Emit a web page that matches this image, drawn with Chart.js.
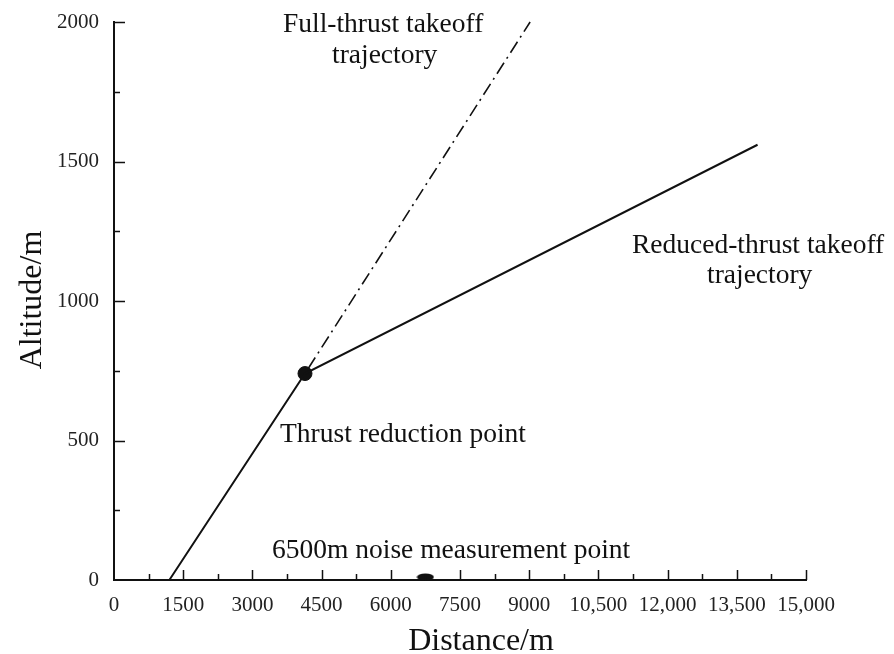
<!DOCTYPE html>
<html>
<head>
<meta charset="utf-8">
<script src="https://cdn.jsdelivr.net/npm/chart.js@4"></script>
<style>
  html, body { margin: 0; padding: 0; background: #fff; }
  #wrap { width: 894px; height: 654px; }
</style>
</head>
<body>
<div id="wrap"><canvas id="chart" width="894" height="654"></canvas></div>
<script>
// values (distance m, altitude m)
const reducedX = [1200, 4140, 13950];
const reducedY = [0, 740, 1560];
const fullX = [4140, 9020];
const fullY = [740, 2000];
const reductionX = [4140];
const reductionY = [740];
const noiseX = [6750];
const noiseY = [0];

const xTicks = [0, 1500, 3000, 4500, 6000, 7500, 9000, 10500, 12000, 13500, 15000];
const yTicks = [0, 500, 1000, 1500, 2000];

const xTitle = "Distance/m";
const yTitle = "Altitude/m";
const notes = ["Full-thrust takeoff", "trajectory", "Reduced-thrust takeoff", "trajectory",
  "Thrust reduction point", "6500m noise measurement point"];

const serif = "'Liberation Serif', 'Times New Roman', serif";
const ink = "#111";

const toPoints = (xs, ys) => xs.map((x, i) => ({ x: x, y: ys[i] }));

// flat ellipse marker for the measurement point
const ellipse = document.createElement("canvas");
ellipse.width = 18; ellipse.height = 16;
(function () {
  const c = ellipse.getContext("2d");
  c.fillStyle = ink;
  c.beginPath();
  c.ellipse(9, 5, 8.5, 3.6, 0, 0, Math.PI * 2);
  c.fill();
})();

const extras = {
  id: "extras",
  afterDraw(chart) {
    const ctx = chart.ctx;
    const xs = chart.scales.x, ys = chart.scales.y;
    const x0 = xs.left, y0 = ys.bottom;
    ctx.save();
    ctx.strokeStyle = ink;
    ctx.lineWidth = 1.5;
    ctx.beginPath();
    // inward ticks, major + minor
    for (let i = 0; i < xTicks.length; i++) {
      const px = Math.round(xs.getPixelForValue(xTicks[i])) + 0.5;
      if (i > 0) { ctx.moveTo(px, y0); ctx.lineTo(px, y0 - 10); }
      if (i < xTicks.length - 1) {
        const mx = Math.round(xs.getPixelForValue((xTicks[i] + xTicks[i + 1]) / 2)) + 0.5;
        ctx.moveTo(mx, y0); ctx.lineTo(mx, y0 - 6);
      }
    }
    for (let i = 0; i < yTicks.length; i++) {
      const py = Math.round(ys.getPixelForValue(yTicks[i])) + 0.5;
      if (i > 0) { ctx.moveTo(x0, py); ctx.lineTo(x0 + 11, py); }
      if (i < yTicks.length - 1) {
        const my = Math.round(ys.getPixelForValue((yTicks[i] + yTicks[i + 1]) / 2)) + 0.5;
        ctx.moveTo(x0, my); ctx.lineTo(x0 + 6, my);
      }
    }
    ctx.stroke();

    // axis titles
    ctx.fillStyle = ink;
    ctx.font = "32px " + serif;
    ctx.textAlign = "center";
    ctx.textBaseline = "alphabetic";
    ctx.fillText(xTitle, 481, 650);
    ctx.save();
    ctx.translate(41, 300);
    ctx.rotate(-Math.PI / 2);
    ctx.fillText(yTitle, 0, 0);
    ctx.restore();

    // annotations
    ctx.font = "27.5px " + serif;
    ctx.textAlign = "left";
    ctx.fillText(notes[0], 283, 32);
    ctx.fillText(notes[1], 332, 63);
    ctx.fillText(notes[2], 632, 253);
    ctx.fillText(notes[3], 707, 283);
    ctx.fillText(notes[4], 280, 442);
    ctx.fillText(notes[5], 272, 558);
    ctx.restore();
  }
};

new Chart(document.getElementById("chart"), {
  type: "scatter",
  data: {
    datasets: [
      {
        data: toPoints(reducedX, reducedY),
        showLine: true,
        borderColor: ink,
        borderWidth: 2,
        pointRadius: 0,
        clip: false
      },
      {
        data: toPoints(fullX, fullY),
        showLine: true,
        borderColor: ink,
        borderWidth: 1.6,
        borderDash: [13, 5, 2, 5],
        borderDashOffset: -6,
        pointRadius: 0,
        clip: false
      },
      {
        data: toPoints(reductionX, reductionY),
        pointRadius: 7,
        backgroundColor: ink,
        borderColor: ink,
        clip: false
      },
      {
        data: toPoints(noiseX, noiseY),
        pointStyle: ellipse,
        clip: false
      }
    ]
  },
  options: {
    responsive: false,
    animation: false,
    devicePixelRatio: 1,
    layout: { padding: { left: 0, top: 22, right: 88, bottom: 0 } },
    plugins: {
      legend: { display: false },
      tooltip: { enabled: false }
    },
    scales: {
      x: {
        type: "linear",
        min: 0,
        max: 15000,
        grid: { display: false, drawTicks: false },
        border: { display: true, color: ink, width: 2 },
        afterBuildTicks: (s) => { s.ticks = xTicks.map(v => ({ value: v })); },
        afterFit: (s) => { s.height = 74; s.paddingLeft = 0; s.paddingRight = 0; },
        ticks: {
          autoSkip: false,
          maxRotation: 0,
          padding: 13,
          color: "#222",
          font: { family: serif, size: 21 },
          callback: (v) => v >= 10000 ? v.toLocaleString("en-US") : String(v)
        }
      },
      y: {
        type: "linear",
        min: 0,
        max: 2000,
        grid: { display: false, drawTicks: false },
        border: { display: true, color: ink, width: 2 },
        afterBuildTicks: (s) => { s.ticks = yTicks.map(v => ({ value: v })); },
        afterFit: (s) => { s.width = 114; s.paddingTop = 0; s.paddingBottom = 0; },
        ticks: {
          padding: 15,
          color: "#222",
          font: { family: serif, size: 21 },
          callback: (v) => String(v)
        }
      }
    }
  },
  plugins: [extras]
});
</script>
</body>
</html>
